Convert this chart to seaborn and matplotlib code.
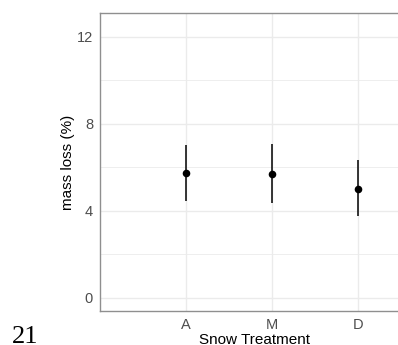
import pandas as pd
import matplotlib
matplotlib.use("Agg")
import matplotlib.pyplot as plt
import seaborn as sns

# summary values
treatments = ["A", "M", "D"]
mean_loss = [5.75, 5.72, 5.03]
lower_ci = [4.46, 4.37, 3.75]
upper_ci = [7.03, 7.08, 6.32]

df = pd.DataFrame({"treatment": treatments, "mean": mean_loss,
                   "lo": lower_ci, "hi": upper_ci})

sns.set_style("white")
plt.rcParams["font.family"] = ["Liberation Sans", "DejaVu Sans"]

fig = plt.figure(figsize=(3.98, 3.45), dpi=100)
# panel is cut off on the right in the original, so it runs past the figure edge
ax = fig.add_axes([100 / 398, 1 - 311 / 345, 310 / 398, 298 / 345])

grid_col = "#ebebeb"
border_col = "#8f8f8f"

# error bars + points
ax.vlines(df["treatment"], df["lo"], df["hi"], color="black", linewidth=1.1, zorder=3)
sns.scatterplot(data=df, x="treatment", y="mean", color="black", s=30,
                edgecolor="black", linewidth=0, ax=ax, zorder=4)

ax.set_xlim(-1, 2.6)
ax.set_ylim(-0.6, 13.1)
ax.set_yticks([0, 4, 8, 12])
ax.set_yticks([2, 6, 10], minor=True)

ax.set_axisbelow(True)
ax.grid(True, which="major", color=grid_col, linewidth=1.0)
ax.grid(True, which="minor", axis="y", color=grid_col, linewidth=0.6)

for side in ax.spines.values():
    side.set_color(border_col)
    side.set_linewidth(1.0)

ax.tick_params(axis="both", which="major", length=3, width=0.8, color=border_col,
               labelcolor="#4d4d4d", labelsize=10.5, pad=2)
ax.tick_params(axis="y", which="minor", length=0)

ax.set_xlabel("Snow Treatment", fontsize=11, color="black", labelpad=0.5)
ax.set_ylabel("mass loss (%)", fontsize=11, color="black", labelpad=1.5)

fig.text(12 / 398, 1 - 326 / 345, "21", family="Liberation Serif", fontsize=19,
         va="top", ha="left", color="black")

fig.savefig("out.png", dpi=100)
